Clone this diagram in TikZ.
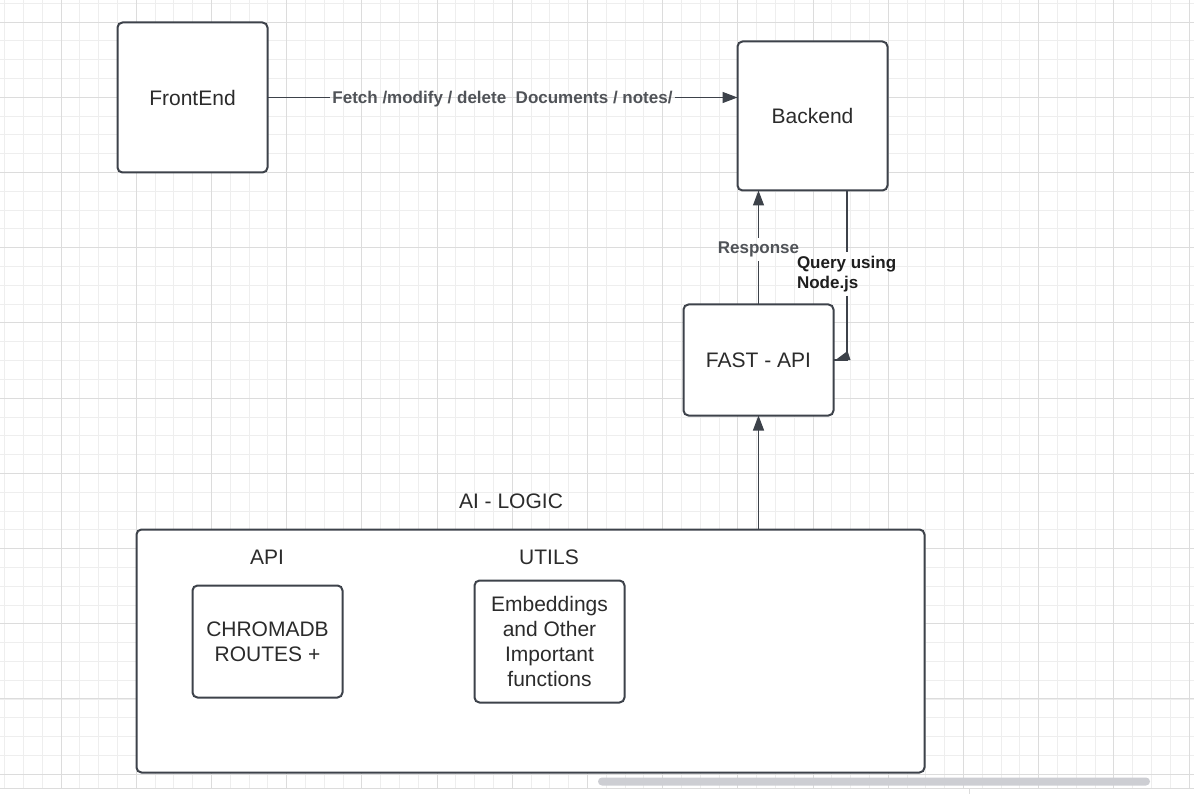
\documentclass[tikz,border=0pt]{standalone}
\usepackage{fontspec}
\setmainfont{Liberation Sans}
\usetikzlibrary{arrows.meta}
\definecolor{gridminor}{HTML}{EEEEEE}
\definecolor{gridmajor}{HTML}{DCDCDC}
\definecolor{boxc}{HTML}{3D424A}
\definecolor{txt}{HTML}{2B2B2B}
\definecolor{lbl}{HTML}{505358}
\definecolor{qlbl}{HTML}{1E1E1E}
\definecolor{sbar}{HTML}{CDCED3}
\newcommand\regfont{\fontsize{21pt}{25.3pt}\selectfont}
\newcommand\lblfont{\bfseries\fontsize{17pt}{20pt}\selectfont}
\begin{document}
\begin{tikzpicture}[x=1pt,y=-1pt,
  every node/.style={inner sep=0pt, outer sep=0pt},
  box/.style={draw=boxc, line width=2pt, rounded corners=5pt, fill=white, text=txt, font=\regfont, align=center},
  plain/.style={text=txt, font=\regfont},
  line/.style={draw=boxc, line width=1.2pt},
  conn/.style={line, -{Triangle[length=15pt,width=11pt]}},
  edgelabel/.style={text=lbl, font=\lblfont, inner xsep=2pt, inner ysep=4pt},
  gmin/.style={draw=gridminor, line width=0.8pt},
  gmaj/.style={draw=gridmajor, line width=0.9pt},
]
\useasboundingbox (0,0) rectangle (1194,794);
\fill[white] (0,0) rectangle (1194,794);
% grid
\foreach \i in {0,...,63} \draw[gmin] ({4.6+18.8*\i},0) -- ({4.6+18.8*\i},788);
\foreach \i in {0,...,41} \draw[gmin] (0,{3.3+18.8*\i}) -- (1194,{3.3+18.8*\i});
\foreach \i in {0,...,15} \draw[gmaj] ({61+75.2*\i},0) -- ({61+75.2*\i},788);
\foreach \i in {0,...,10} \draw[gmaj] (0,{22.1+75.2*\i}) -- (1194,{22.1+75.2*\i});
\fill[white] (0,788.5) rectangle (1194,794);
\draw[gmaj] (0,788.5) -- (1194,788.5);
\draw[gmaj] (969.5,789) -- (969.5,794);
\fill[sbar, rounded corners=4pt] (598,777.5) rectangle (1150,785.5);

% boxes
\node[box, minimum width=150pt, minimum height=150pt] (fe) at (192.5,97.5) {FrontEnd};
\node[box, minimum width=150pt, minimum height=149pt] (be) at (812.5,116) {Backend};
\node[box, minimum width=150pt, minimum height=111pt] (fast) at (758.5,360) {FAST - API};
\node[box, minimum width=788pt, minimum height=243pt] (ai) at (530.5,651) {};
\node[box, minimum width=150pt, minimum height=112pt] (chroma) at (267.5,641.5) {CHROMADB\\ROUTES +};
\node[box, minimum width=150pt, minimum height=122pt] (emb) at (549.5,641.5) {Embeddings\\and Other\\Important\\functions};

% titles
\node[plain] (ailogic) at (511,501) {AI - LOGIC};
\node[plain] (apit) at (267,557) {API};
\node[plain] (utilst) at (549,557) {UTILS};

% connector labels
\node[edgelabel] (fetchl) at (502.5,99) {Fetch /modify / delete~~Documents / notes/};
\node[edgelabel] (respl) at (758.5,249.5) {Response};
\node[edgelabel, text=qlbl, align=left, anchor=west] (ql) at (795,274) {Query using\\Node.js};

% connectors
\draw[line] (fe.east) -- (fe.east -| fetchl.west);
\draw[conn] (fetchl.east |- fe.east) -- (fe.east -| be.west);
\draw[line] (fast.north) -- (fast.north |- respl.south);
\draw[conn] (fast.north |- respl.north) -- (fast.north |- be.south);
\coordinate (qx) at (847,0);
\draw[line] (be.south -| qx) -- (qx |- ql.north);
\draw[line] (qx |- ql.south) |- (fast.east);
\fill[boxc] ([xshift=2pt]fast.east) -- ([xshift=14pt,yshift=9pt]fast.east) -- ([xshift=17pt]fast.east) -- cycle;
\draw[conn] (ai.north -| fast.south) -- (fast.south);
\end{tikzpicture}
\end{document}
